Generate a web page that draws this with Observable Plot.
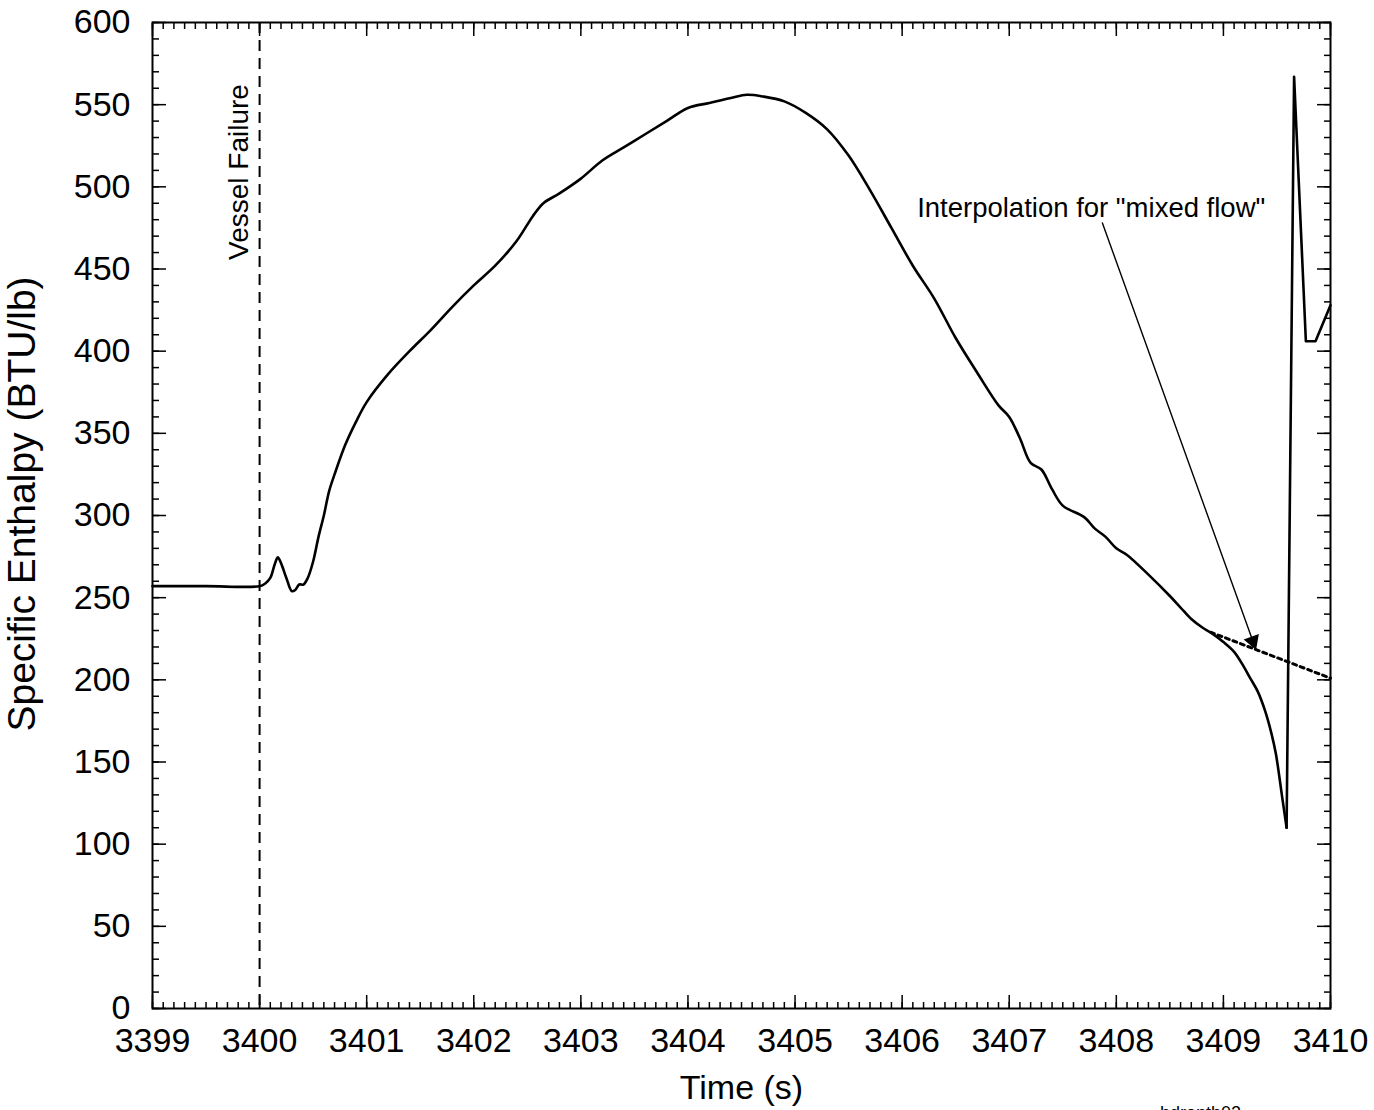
<!DOCTYPE html>
<html><head><meta charset="utf-8">
<script src="https://cdn.jsdelivr.net/npm/d3@7"></script>
<script src="https://cdn.jsdelivr.net/npm/@observablehq/plot@0.6"></script>
<style>html,body{margin:0;padding:0;background:#fff;overflow:hidden;}</style>
</head><body><div id="chart"></div>
<script>
// Main enthalpy curve
const time = [3399.0, 3399.5, 3400.0, 3400.05, 3400.1, 3400.14, 3400.17, 3400.2, 3400.25, 3400.3, 3400.33, 3400.37, 3400.41, 3400.45, 3400.5, 3400.55, 3400.6, 3400.65, 3400.7, 3400.8, 3400.9, 3401.0, 3401.2, 3401.4, 3401.6, 3401.8, 3402.0, 3402.2, 3402.4, 3402.55, 3402.65, 3402.8, 3403.0, 3403.2, 3403.4, 3403.6, 3403.8, 3404.0, 3404.2, 3404.4, 3404.55, 3404.7, 3404.9, 3405.1, 3405.3, 3405.5, 3405.7, 3405.9, 3406.1, 3406.3, 3406.5, 3406.7, 3406.9, 3407.0, 3407.1, 3407.2, 3407.3, 3407.4, 3407.5, 3407.7, 3407.8, 3407.9, 3408.0, 3408.1, 3408.3, 3408.5, 3408.6, 3408.7, 3408.8, 3408.9, 3409.0, 3409.1, 3409.19, 3409.25, 3409.32, 3409.39, 3409.45, 3409.49, 3409.55, 3409.59, 3409.66, 3409.77, 3409.86, 3410.0];
const enthalpy = [257, 257, 257, 258.5, 262, 270, 274.5, 271, 262, 254, 254.5, 258, 258, 262, 272, 287, 300, 315, 325, 343, 357, 369, 386, 400, 413, 427, 440, 452, 467, 482, 490, 496, 505, 516, 524, 532, 540, 548, 551, 554, 556, 555, 552, 545, 535, 519, 498, 475, 452, 432, 408, 387, 367, 360, 347, 332, 328, 316, 306, 299, 292, 287, 280, 276, 264, 251, 244, 237, 232, 228, 223, 217, 208, 201, 193, 181, 167, 155, 128, 110, 567, 406, 406, 428];
const minTime = 3409.59; // bottom of the dip, where the sudden jump starts
// Dotted "mixed flow" interpolation
const interpTime = [3408.88, 3410.0];
const interpEnthalpy = [229, 201];
// Annotations
const vesselFailureTime = [3400];
const arrowFrom = [3407.87, 478];
const arrowTo = [3409.30, 219];
const arrowHeadPos = [3409.275, 223.5];
const noteText = ['Interpolation for "mixed flow"'];
const notePos = [3406.14, 487];
const vesselText = ["Vessel Failure"];
const vesselTextPos = [3399.81, 509];
const yTitle = ["Specific Enthalpy (BTU/lb)"];
const yTitlePos = [3397.79, 307];
const xTitle = ["Time (s)"];
// Ticks
const xTicks = d3.range(3399, 3411);
const yTicks = d3.range(0, 601, 50);
const xMinor = d3.range(0, 111).map(i => 3399 + i / 10);
const yMinor = d3.range(0, 61).map(i => i * 10);

const F = "'Liberation Sans', Arial, Helvetica, sans-serif";
const blank = () => "";

const plot = Plot.plot({
  width: 1374, height: 1110,
  marginLeft: 152, marginRight: 44, marginTop: 22, marginBottom: 102,
  style: {fontFamily: F, background: "#fff", color: "#000"},
  x: {domain: [3399, 3410]},
  y: {domain: [0, 600]},
  marks: [
    // inward minor/major ticks on all four sides
    Plot.axisX(xMinor, {anchor: "bottom", tickSize: -6, tickFormat: blank, label: null, strokeWidth: 1.5}),
    Plot.axisX(xTicks, {anchor: "bottom", tickSize: -13, tickFormat: blank, label: null, strokeWidth: 1.5}),
    Plot.axisX(xMinor, {anchor: "top", tickSize: -6, tickFormat: blank, label: null, strokeWidth: 1.5}),
    Plot.axisX(xTicks, {anchor: "top", tickSize: -13, tickFormat: blank, label: null, strokeWidth: 1.5}),
    Plot.axisY(yMinor, {anchor: "left", tickSize: -7, tickFormat: blank, label: null, strokeWidth: 1.5}),
    Plot.axisY(yTicks, {anchor: "left", tickSize: -14, tickFormat: blank, label: null, strokeWidth: 1.5}),
    Plot.axisY(yMinor, {anchor: "right", tickSize: -7, tickFormat: blank, label: null, strokeWidth: 1.5}),
    Plot.axisY(yTicks, {anchor: "right", tickSize: -14, tickFormat: blank, label: null, strokeWidth: 1.5}),
    // tick labels
    Plot.axisX(xTicks, {anchor: "bottom", tickSize: 0, tickPadding: 19, fontSize: 34, tickFormat: d => String(d), label: null}),
    Plot.axisY(yTicks, {anchor: "left", tickSize: 0, tickPadding: 22, fontSize: 34, tickFormat: d => String(d), label: null}),
    Plot.frame({strokeWidth: 2}),
    // axis titles
    Plot.text(xTitle, {frameAnchor: "bottom", dy: 90, fontSize: 34, fill: "#000"}),
    Plot.text(yTitle, {x: [yTitlePos[0]], y: [yTitlePos[1]], textAnchor: "middle", rotate: -90, fontSize: 39, fill: "#000"}),
    // vessel failure
    Plot.ruleX(vesselFailureTime, {strokeWidth: 2, strokeDasharray: "11,7"}),
    Plot.text(vesselText, {x: [vesselTextPos[0]], y: [vesselTextPos[1]], rotate: -90, fontSize: 28, fill: "#000"}),
    // curves
    Plot.line({length: interpTime.length}, {x: interpTime, y: interpEnthalpy, strokeWidth: 3, strokeDasharray: "4,4"}),
    Plot.line({length: time.length}, {x: time, y: enthalpy, filter: time.map(t => t <= minTime), curve: "catmull-rom", strokeWidth: 2.6, strokeLinejoin: "round"}),
    Plot.line({length: time.length}, {x: time, y: enthalpy, filter: time.map(t => t >= minTime), strokeWidth: 2.6, strokeLinejoin: "round"}),
    // annotation
    Plot.arrow([0], {x1: arrowFrom[0], y1: arrowFrom[1], x2: arrowTo[0], y2: arrowTo[1], strokeWidth: 1.4, headLength: 0}),
    Plot.dot([0], {x: [arrowHeadPos[0]], y: [arrowHeadPos[1]], symbol: "triangle", r: 6, rotate: 160, fill: "#000", stroke: null}),
    Plot.text(noteText, {x: [notePos[0]], y: [notePos[1]], textAnchor: "start", fontSize: 27.5, fill: "#000"}),
    // file tag (cut off at the page bottom)
    Plot.text(["hdrenth02"], {frameAnchor: "bottom", dx: 459, dy: 110, fontSize: 18, fill: "#000"})
  ]
});
document.getElementById("chart").appendChild(plot);
</script>
</body></html>
